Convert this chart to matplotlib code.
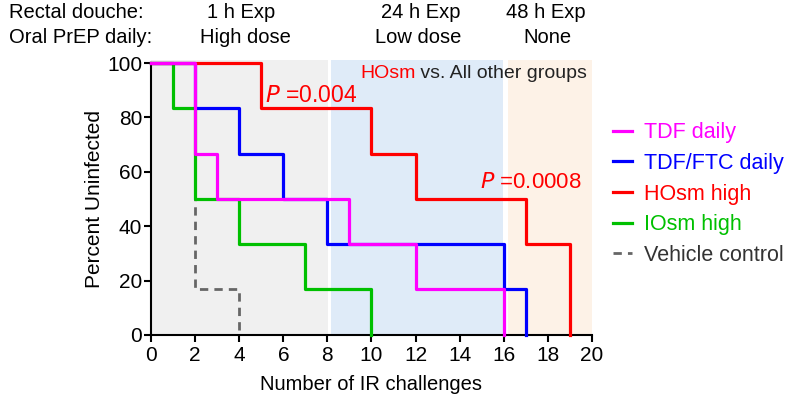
import numpy as np
import matplotlib
matplotlib.use("Agg")
import matplotlib.pyplot as plt
from matplotlib.lines import Line2D

plt.rcParams['font.family'] = ['Liberation Sans', 'DejaVu Sans']

# survival steps: event times (x) and percent uninfected after each step (y)
tdf_x = [0, 2, 3, 9, 12, 16]
tdf_y = [100, 66.7, 50, 33.3, 16.7, 0]
ftc_x = [0, 2, 4, 6, 8, 16, 17]
ftc_y = [100, 83.3, 66.7, 50, 33.3, 16.7, 0]
hosm_x = [0, 5, 10, 12, 17, 19]
hosm_y = [100, 83.3, 66.7, 50, 33.3, 0]
iosm_x = [0, 1, 2, 4, 7, 10]
iosm_y = [100, 83.3, 50, 33.3, 16.7, 0]
veh_x = [0, 2, 4]
veh_y = [100, 16.7, 0]

labels = ['TDF daily', 'TDF/FTC daily', 'HOsm high', 'IOsm high', 'Vehicle control']
colors = ['#FF00FF', '#0000FF', '#FF0000', '#00C000', '#666666']
text_colors = ['#FF00FF', '#0000FF', '#FF0000', '#00C000', '#333333']

phases = [(0, 8.05, '#F0F0F0'), (8.15, 15.95, '#DFEBF8'), (16.2, 20, '#FDF2E7')]
row1 = ['Rectal douche:', '1 h Exp', '24 h Exp', '48 h Exp']
row2 = ['Oral PrEP daily:', 'High dose', 'Low dose', 'None']

fig = plt.figure(figsize=(7.87, 3.94), dpi=100)
ax = fig.add_axes([0.192, 0.15, 0.56, 0.69])

for x0, x1, c in phases:
    ax.axvspan(x0, x1, ymin=0, ymax=1.012, color=c, lw=0, clip_on=False, zorder=0)

lw = 2.3
ax.step(veh_x, veh_y, where='post', color=colors[4], lw=2.0, ls=(0, (3, 2.2)), zorder=2, clip_on=False)
ax.step(iosm_x, iosm_y, where='post', color=colors[3], lw=lw, zorder=3, clip_on=False)
ax.step(ftc_x, ftc_y, where='post', color=colors[1], lw=lw, zorder=4, clip_on=False)
ax.step(hosm_x, hosm_y, where='post', color=colors[2], lw=lw, zorder=5, clip_on=False)
ax.step(tdf_x, tdf_y, where='post', color=colors[0], lw=lw, zorder=6, clip_on=False)

ax.set_xlim(0, 20)
ax.set_ylim(0, 100)
ax.set_xticks(np.arange(0, 21, 2))
ax.set_yticks(np.arange(0, 101, 20))
for s in ['top', 'right']:
    ax.spines[s].set_visible(False)
for s in ['left', 'bottom']:
    ax.spines[s].set_linewidth(1.5)
ax.tick_params(width=1.5, length=5, labelsize=15, pad=1.5)
ax.tick_params(axis='x', pad=3)
ax.set_xlabel('Number of IR challenges', fontsize=14.5, labelpad=7)
ax.set_ylabel('Percent Uninfected', fontsize=15, labelpad=2)

# p-value notes
ax.text(5.17, 88, r'$\it{P}$ =0.004', color='#FF0000', fontsize=16.5, va='center', ha='left')
ax.text(19.55, 56, r'$\it{P}$ =0.0008', color='#FF0000', fontsize=16, va='center', ha='right')
t = ax.text(9.48, 96.3, 'HOsm', color='#FF0000', fontsize=14, va='center', ha='left')
ax.annotate(' vs. All other groups', xycoords=t, xy=(1, 0.5), va='center', ha='left',
            fontsize=14, color='#222222')

# legend
handles = [Line2D([], [], color=c, lw=lw) for c in colors[:4]]
handles.append(Line2D([], [], color=colors[4], lw=2.0, ls=(0, (3, 2.2))))
leg = fig.legend(handles, labels, loc='upper left', bbox_to_anchor=(0.779, 0.69),
                 frameon=False, fontsize=15.5, handlelength=0.9, handletextpad=0.55,
                 labelspacing=0.45, borderaxespad=0, borderpad=0)
for txt, c in zip(leg.get_texts(), text_colors):
    txt.set_color(c)

# header rows
xs = [0.012, 0.307, 0.535, 0.694]
for i, s in enumerate(row1):
    if i == 0:
        fig.text(xs[i], 0.968, s, fontsize=14.5, ha='left', va='center')
    else:
        fig.text(xs[i], 0.968, s, fontsize=14.5, ha='center', va='center')
xs2 = [0.012, 0.312, 0.531, 0.696]
for i, s in enumerate(row2):
    if i == 0:
        fig.text(xs2[i], 0.905, s, fontsize=14.5, ha='left', va='center')
    else:
        fig.text(xs2[i], 0.905, s, fontsize=14.5, ha='center', va='center')

fig.savefig('out.png', dpi=100)
